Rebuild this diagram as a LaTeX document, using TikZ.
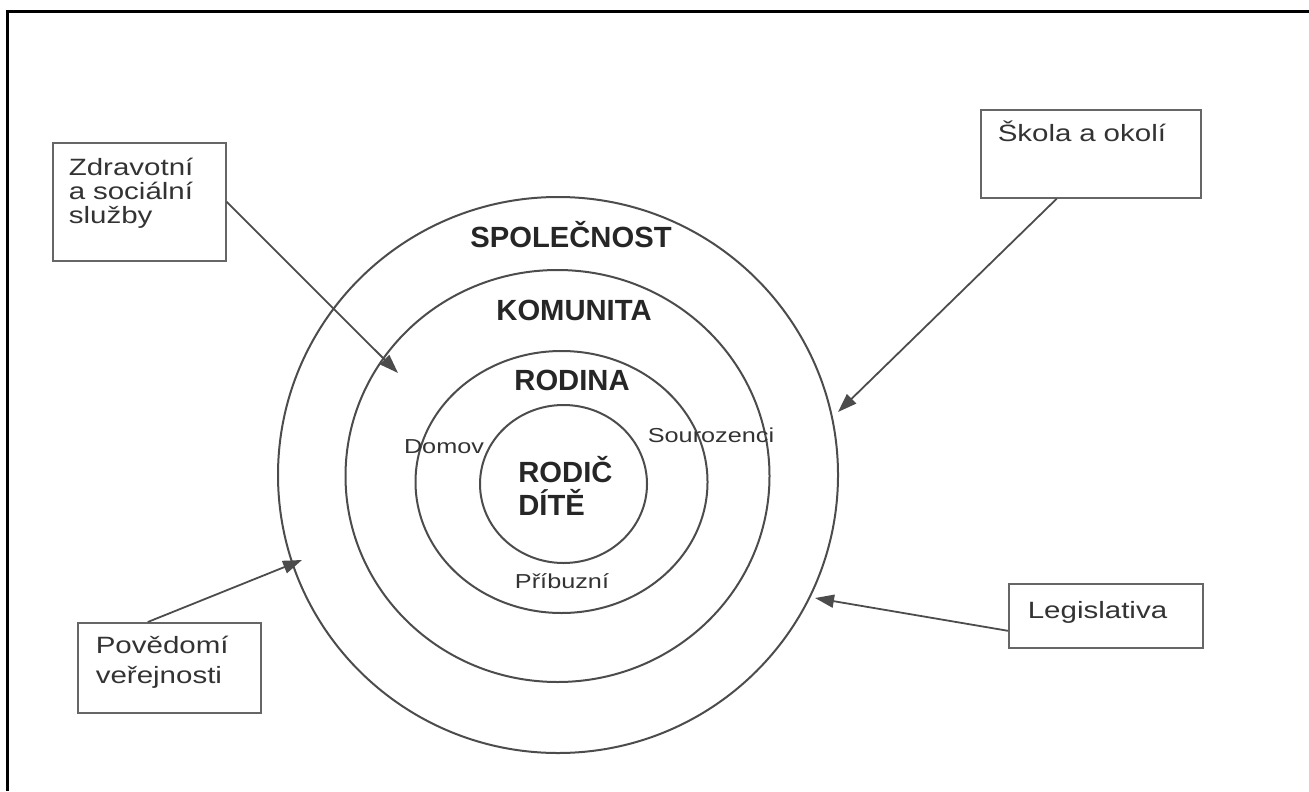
\documentclass[tikz,border=0pt]{standalone}
\usepackage{fontspec}
\setmainfont{Liberation Sans}
\newfontfamily\boxfont[FakeStretch=1.25]{Liberation Sans}
\usetikzlibrary{arrows.meta}

\tikzset{
  ring/.style={draw=black!70, line width=1pt},
  label box/.style={draw=black!60, line width=0.8pt, anchor=north west, inner ysep=0pt,
    align=left, text=black!80, font=\boxfont\fontsize{11.8}{11.8}\selectfont},
  big/.style={anchor=base, inner sep=0pt, text=black!85, font=\bfseries\fontsize{14.6}{16}\selectfont},
  small/.style={anchor=base, inner sep=0pt, text=black!80, font=\boxfont\fontsize{10.1}{12}\selectfont},
  pointer/.style={draw=black!70, line width=0.9pt, -{Triangle[length=9.5pt,width=6.5pt]}},
}

\begin{document}
\begin{tikzpicture}[x=0.5pt, y=-0.5pt]

  \useasboundingbox (0,0) rectangle (1309,791);

  % Frame of the table cell.
  \draw[line width=1.5pt] (7,791) -- (7,12) -- (1309,12);

  % 4 rings.
  \draw[ring] (558,475) ellipse [x radius=280, y radius=278];
  \draw[ring] (557.5,476) ellipse [x radius=212, y radius=206];
  \draw[ring] (561.5,482) ellipse [x radius=146, y radius=131];
  \draw[ring] (563.5,484) ellipse [x radius=83.5, y radius=79];

  % Ring titles
  \node[big] (soc) at (571,247) {SPOLEČNOST};
  \node[big] (kom) at (574,320) {KOMUNITA};
  \node[big] (fam) at (572,390) {RODINA};
  \node[big, anchor=base west] (par) at (518,482) {RODIČ};
  \node[big, anchor=base west] (chi) at (518,515) {DÍTĚ};

  % Family members
  \node[small] (home) at (444,453) {Domov};
  \node[small] (sib) at (711,442) {Sourozenci};
  \node[small] (rel) at (562,588) {Příbuzní};

  % Outside boxes
  \node[label box, inner xsep=8pt, text width=70.5pt, text height=16.5pt, text depth=42.5pt]
    (health) at (52,142) {Zdravotní\\a sociální\\služby};
  \node[label box, inner xsep=8.5pt, text width=93pt, text height=16pt, text depth=28pt]
    (school) at (980,109) {Škola a okolí};
  \node[label box, inner xsep=9pt, text width=73.5pt, text height=15.5pt, text depth=29.5pt,
    font=\boxfont\fontsize{11.8}{15}\selectfont]
    (aware) at (77,622) {Povědomí\\veřejnosti};
  \node[label box, inner xsep=9.5pt, text width=78pt, text height=17.5pt, text depth=14.5pt]
    (law) at (1008,583) {Legislativa};

  % Arrow ends on the rings.
  \coordinate (healthtip) at (398,373);
  \coordinate (schooltip) at (838,412);
  \coordinate (awaretip) at (302,560);
  \coordinate (lawtip) at (815,598);

  \draw[pointer] (health.east) -- (healthtip);
  \draw[pointer] ([xshift=-17pt]school.south) -- (schooltip);
  \draw[pointer] ([xshift=-10.75pt]aware.north) -- (awaretip);
  \draw[pointer] ([yshift=-7.5pt]law.west) -- (lawtip);

\end{tikzpicture}
\end{document}
